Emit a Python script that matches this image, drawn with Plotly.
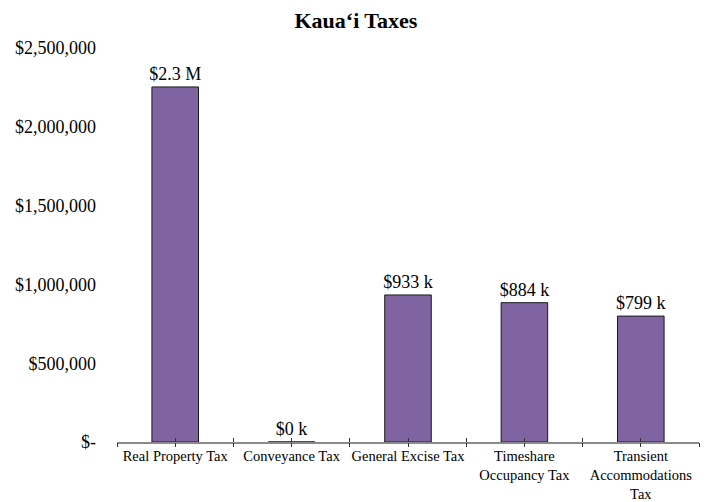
import plotly.graph_objects as go

CATEGORIES = ["Real Property Tax", "Conveyance Tax", "General Excise Tax",
              "Timeshare<br>Occupancy Tax", "Transient<br>Accommodations<br>Tax"]
TAX_VALUES = [2253000, 400, 933000, 884000, 799000]
Y_TICK_VALUES = [0, 500000, 1000000, 1500000, 2000000, 2500000]
Y_TICK_LABELS = ["$-", "$500,000", "$1,000,000", "$1,500,000", "$2,000,000", "$2,500,000"]
TITLE = "Kaua‘i Taxes"

FONT = "Liberation Serif, Times New Roman, serif"


def money_label(v):
    if v >= 1000000:
        return "$%.1f M" % (v / 1000000)
    return "$%d k" % round(v / 1000)


def tick_axis(direction):
    # extra overlaid axis that only draws tick marks (crossing ticks)
    return dict(
        automargin=False,
        overlaying="x", matches="x", anchor="y", side="bottom",
        tickmode="array", tickvals=x_pos, showticklabels=False,
        ticks=direction, ticklen=4, tickcolor="#333333",
        minor=dict(tickmode="array", tickvals=bounds, ticks=direction,
                   ticklen=4, tickcolor="#333333"),
        showline=False, showgrid=False, zeroline=False,
    )


x_pos = list(range(len(CATEGORIES)))
bounds = [i - 0.5 for i in range(len(CATEGORIES) + 1)]

fig = go.Figure()
fig.add_trace(go.Bar(
    x=x_pos,
    y=TAX_VALUES,
    width=0.4,
    marker=dict(color="#8064A2", line=dict(color="#1a1a1a", width=1)),
    text=[money_label(v) for v in TAX_VALUES],
    textposition="outside",
    constraintext="none",
    cliponaxis=False,
    textfont=dict(family=FONT, size=18, color="black"),
    hoverinfo="skip",
))
# invisible traces so the tick-only axes get drawn
for ax in ["x2", "x3"]:
    fig.add_trace(go.Scatter(x=x_pos, y=TAX_VALUES, xaxis=ax, mode="markers",
                             marker=dict(opacity=0), hoverinfo="skip"))

# page body adds an 8px offset, margins are set with that in mind
fig.update_layout(
    width=710, height=502,
    margin=dict(l=109, r=19, t=40, b=68),
    plot_bgcolor="white", paper_bgcolor="white",
    showlegend=False,
    font=dict(family=FONT, color="black"),
    title=dict(text="<b>%s</b>" % TITLE, x=0.49, xanchor="center",
               y=0.976, yanchor="middle", font=dict(family=FONT, size=22)),
    xaxis=dict(
        automargin=False,
        range=[-0.5, len(CATEGORIES) - 0.5],
        tickmode="array", tickvals=x_pos, ticktext=CATEGORIES,
        ticks="",
        showline=True, linecolor="#8a8a8a", linewidth=1.5,
        showgrid=False, zeroline=False,
        tickfont=dict(family=FONT, size=14.5),
    ),
    xaxis2=tick_axis("outside"),
    xaxis3=tick_axis("inside"),
    yaxis=dict(
        automargin=False,
        range=[0, 2500000],
        tickmode="array", tickvals=Y_TICK_VALUES, ticktext=Y_TICK_LABELS,
        showline=False, showgrid=False, zeroline=False, ticks="",
        ticklabelstandoff=20,
        tickfont=dict(family=FONT, size=18),
    ),
)

fig.write_html("out.html")
